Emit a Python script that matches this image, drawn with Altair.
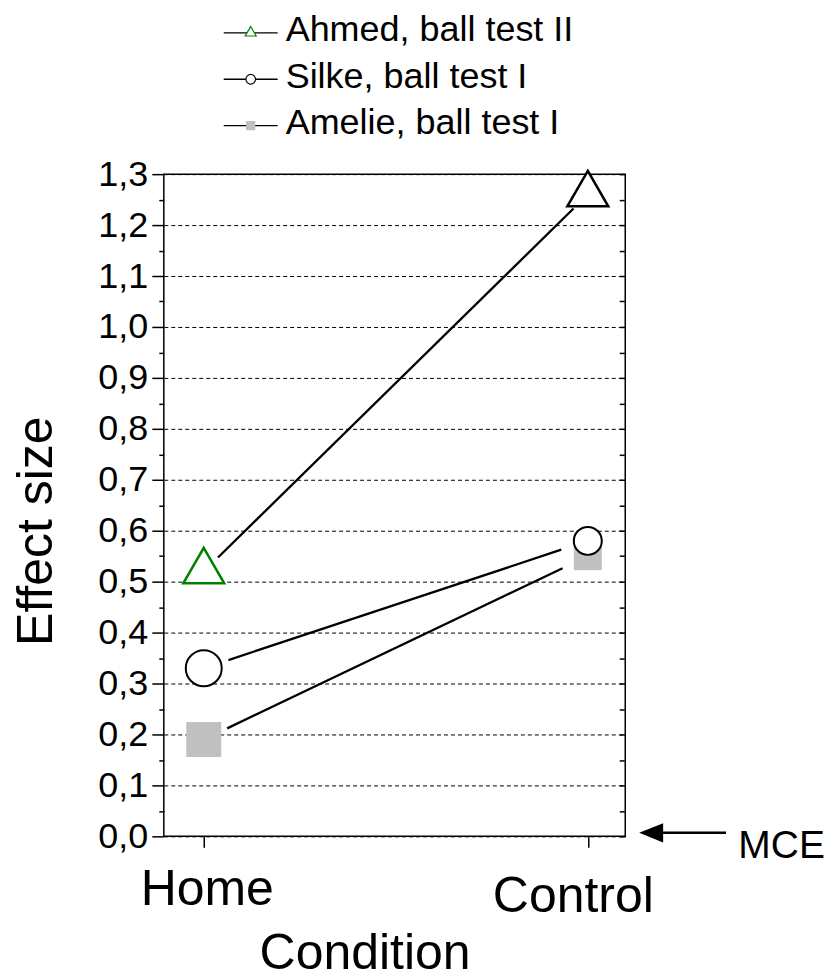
import math
import altair as alt
import pandas as pd

# ---------------- data ----------------
conditions = ["Home", "Control"]
series_names = ["Ahmed, ball test II", "Silke, ball test I", "Amelie, ball test I"]
ahmed = [0.52, 1.26]
silke = [0.33, 0.58]
amelie = [0.19, 0.55]
y_ticks = [0.0, 0.05, 0.1, 0.15, 0.2, 0.25, 0.3, 0.35, 0.4, 0.45, 0.5, 0.55, 0.6,
           0.65, 0.7, 0.75, 0.8, 0.85, 0.9, 0.95, 1.0, 1.05, 1.1, 1.15, 1.2, 1.25, 1.3]
mce_label = ["MCE"]
mce_level = [0.0]
mce_arrow_x = [1.165, 1.36]   # arrow head centre, arrow tail (condition units)
mce_label_x = [1.392]

# ---------------- layout / style ----------------
FONT = "Liberation Sans, Arial, sans-serif"
W, H = 462, 663
X_DOMAIN = [-0.104, 1.0975]
Y_DOMAIN = [0.0, 1.3]
GAPS = {series_names[0]: (20, 20), series_names[1]: (26, 28), series_names[2]: (26, 28)}
TRI = "M0,-1.1547L1,0.5774L-1,0.5774Z"
ARROW = "M-1,0L1,-0.8L1,0.8Z"
MINOR = "round(datum.value*20) % 2 == 1"
IS_SECOND = "datum.value > 0.5"

values = {series_names[0]: ahmed, series_names[1]: silke, series_names[2]: amelie}

pts = pd.DataFrame(
    [dict(series=s, condition=c, xi=i, value=v)
     for s in series_names for i, (c, v) in enumerate(zip(conditions, values[s]))]
)


def shorten(y0, y1, g0, g1):
    kx = W / (X_DOMAIN[1] - X_DOMAIN[0])
    ky = H / (Y_DOMAIN[1] - Y_DOMAIN[0])
    length = math.hypot(kx, ky * (y1 - y0))
    t0 = g0 / length
    t1 = 1 - g1 / length
    return t0, y0 + t0 * (y1 - y0), t1, y0 + t1 * (y1 - y0)


seg_rows = []
for s in series_names:
    x0, y0, x1, y1 = shorten(values[s][0], values[s][1], *GAPS[s])
    seg_rows.append(dict(series=s, x0=x0, y0=y0, x1=x1, y1=y1))
segs = pd.DataFrame(seg_rows)

mce = pd.DataFrame({"label": mce_label, "level": mce_level})
legend_df = pd.DataFrame({"series": series_names})

xs = alt.Scale(domain=X_DOMAIN, nice=False, zero=False)
ys = alt.Scale(domain=Y_DOMAIN, nice=False, zero=False)

left_axis = alt.Axis(
    values=y_ticks,
    labelExpr="round(datum.value*20) % 2 == 1 ? '' : replace(format(datum.value, '.1f'), '.', ',')",
    tickSize={"condition": {"test": MINOR, "value": 5}, "value": 12},
    tickColor="black", tickWidth=1.5, domain=False,
    grid=True, gridColor="black", gridWidth=1, gridDash=[4, 3],
    gridOpacity={"condition": {"test": MINOR, "value": 0}, "value": 1},
    labelFont=FONT, labelFontSize=36, labelColor="black", labelPadding=4,
    labelOverlap=False, labelFlush=False, labelBound=False,
    title="Effect size", titleFont=FONT, titleFontSize=50, titleFontWeight="normal",
    titleColor="black", titleAngle=270, titleX=-112, titleY=357,
    titleAlign="center", titleBaseline="alphabetic",
)
right_axis = alt.Axis(
    orient="right", values=y_ticks, labels=False, offset=-6,
    tickSize={"condition": {"test": MINOR, "value": 5}, "value": 6},
    tickColor="black", tickWidth=1.5, domain=False, grid=False, title=None,
)
x_axis = alt.Axis(
    orient="bottom", values=[0, 1],
    labelExpr=f"datum.value < 0.5 ? '{conditions[0]}' : '{conditions[1]}'",
    tickSize=11, tickColor="black", tickWidth=1.5, domain=False, grid=False,
    labelFont=FONT, labelFontSize=50, labelColor="black",
    labelPadding={"condition": {"test": IS_SECOND, "value": 24}, "value": 17},
    labelOffset={"condition": {"test": IS_SECOND, "value": -15}, "value": 3},
    labelOverlap=False, labelFlush=False,
    title="Condition", titleFont=FONT, titleFontSize=50, titleFontWeight="normal",
    titleColor="black", titleX=201, titleY=132, titleAlign="center",
    titleBaseline="alphabetic",
)

seg_layer = alt.Chart(segs).mark_rule(color="black", strokeWidth=2.3).encode(
    x=alt.X("x0:Q", scale=xs, axis=x_axis),
    x2="x1:Q",
    y=alt.Y("y0:Q", scale=ys, axis=left_axis),
    y2="y1:Q",
)

right_layer = alt.Chart(pts).mark_point(opacity=0).encode(
    x=alt.X("xi:Q", scale=xs, axis=None),
    y=alt.Y("value:Q", scale=ys, axis=right_axis),
)

is_home = f"datum.condition == '{conditions[0]}'"

sq_layer = alt.Chart(pts).transform_filter(
    alt.datum.series == series_names[2]
).mark_point(shape="square", filled=True, color="#c0c0c0", opacity=1, strokeWidth=0).encode(
    x=alt.X("xi:Q", scale=xs, axis=None),
    y=alt.Y("value:Q", scale=ys, axis=None),
    size=alt.condition(is_home, alt.value(1225), alt.value(784)),
)

tri_layer = alt.Chart(pts).transform_filter(
    alt.datum.series == series_names[0]
).mark_point(shape=TRI, filled=True, fill="white", opacity=1, strokeWidth=2.5, size=1681).encode(
    x=alt.X("xi:Q", scale=xs, axis=None),
    y=alt.Y("value:Q", scale=ys, axis=None),
    stroke=alt.condition(is_home, alt.value("#008000"), alt.value("black")),
)

circ_layer = alt.Chart(pts).transform_filter(
    alt.datum.series == series_names[1]
).mark_point(shape="circle", filled=True, fill="white", stroke="black", opacity=1, strokeWidth=2).encode(
    x=alt.X("xi:Q", scale=xs, axis=None),
    y=alt.Y("value:Q", scale=ys, axis=None),
    size=alt.condition(is_home, alt.value(1296), alt.value(784)),
)

arrow_shaft = alt.Chart(mce).mark_rule(color="black", strokeWidth=2.5, yOffset=-3.5).encode(
    x=alt.XDatum(mce_arrow_x[0], scale=xs, axis=None),
    x2=alt.X2Datum(mce_arrow_x[1]),
    y=alt.Y("level:Q", scale=ys, axis=None),
)
arrow_head = alt.Chart(mce).mark_point(
    shape=ARROW, filled=True, color="black", opacity=1, size=576, yOffset=-3.5
).encode(
    x=alt.XDatum(mce_arrow_x[0], scale=xs, axis=None),
    y=alt.Y("level:Q", scale=ys, axis=None),
)
mce_text = alt.Chart(mce).mark_text(
    align="left", baseline="alphabetic", dy=22, fontSize=39, font=FONT, color="black"
).encode(
    x=alt.XDatum(mce_label_x[0], scale=xs, axis=None),
    y=alt.Y("level:Q", scale=ys, axis=None),
    text="label:N",
)

main = alt.layer(
    seg_layer, right_layer, sq_layer, tri_layer, circ_layer,
    arrow_shaft, arrow_head, mce_text,
).resolve_axis(x="independent", y="independent").properties(
    width=W, height=H, view=alt.ViewBackground(stroke="black", strokeWidth=1.5)
)

# ---------------- legend panel ----------------
lg_x = alt.Scale(domain=[0, 1], range=[60, 114])
lg_y = alt.Scale(type="point", domain=series_names, padding=0.5)
lbase = alt.Chart(legend_df).encode(y=alt.Y("series:N", scale=lg_y, axis=None))

l_line = lbase.mark_rule(color="black", strokeWidth=1.3).encode(
    x=alt.XDatum(0, scale=lg_x, axis=None), x2=alt.X2Datum(1)
)
l_mark = lbase.mark_point(filled=True, opacity=1, strokeWidth=1.2).encode(
    x=alt.XDatum(0.5, scale=lg_x, axis=None),
    shape=alt.Shape("series:N", scale=alt.Scale(domain=series_names, range=[TRI, "circle", "square"]), legend=None),
    fill=alt.Fill("series:N", scale=alt.Scale(domain=series_names, range=["white", "white", "#c0c0c0"]), legend=None),
    stroke=alt.Stroke("series:N", scale=alt.Scale(domain=series_names, range=["#008000", "black", "#c0c0c0"]), legend=None),
    size=alt.Size("series:N", scale=alt.Scale(domain=series_names, range=[121, 64, 86]), legend=None),
)
l_text = lbase.mark_text(
    align="left", baseline="alphabetic", dx=8, dy=8.5, fontSize=36, font=FONT, color="black"
).encode(x=alt.XDatum(1, scale=lg_x, axis=None), text="series:N")

legend = alt.layer(l_line, l_mark, l_text).properties(
    width=460, height=139.5, view=alt.ViewBackground(stroke="transparent")
)

chart = alt.vconcat(
    legend, main, spacing=5.75,
    padding={"left": 3, "top": 0, "right": 0, "bottom": 0},
    background="white",
)

chart.save("out.html", embed_options={"renderer": "svg", "actions": False})
